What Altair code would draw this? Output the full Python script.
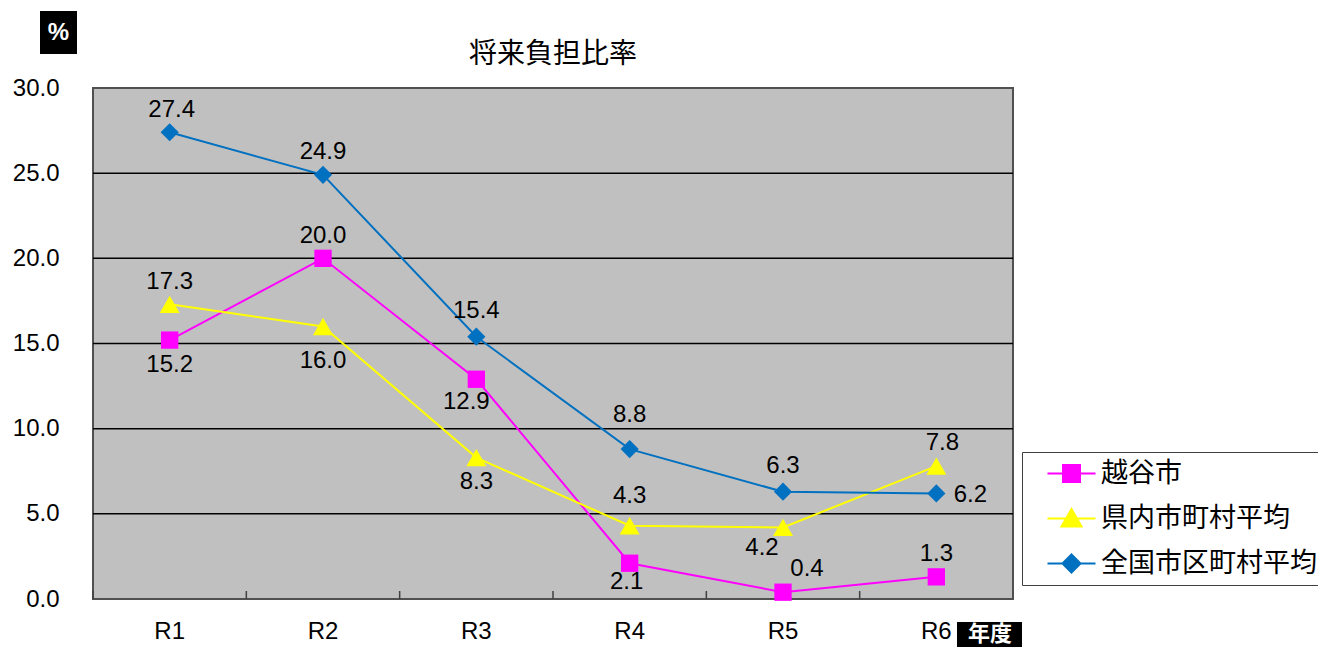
import altair as alt
import pandas as pd

# ---------------- data ----------------
years = ["R1", "R2", "R3", "R4", "R5", "R6"]
series_names = ["越谷市", "県内市町村平均", "全国市区町村平均"]
koshigaya = [15.2, 20.0, 12.9, 2.1, 0.4, 1.3]
prefecture_avg = [17.3, 16.0, 8.3, 4.3, 4.2, 7.8]
national_avg = [27.4, 24.9, 15.4, 8.8, 6.3, 6.2]
y_ticks = [0, 5, 10, 15, 20, 25, 30]
grid_values = [5, 10, 15, 20, 25]
chart_title = "将来負担比率"

# label placement (pixel offsets from each point)
label_dx = {
    "越谷市": [0, 0, -10, -3, 24, 0],
    "県内市町村平均": [0, 0, 0, 0, -21, 6],
    "全国市区町村平均": [2, 0, 0, 0, 0, 34],
}
label_dy = {
    "越谷市": [25, -22, 23, 19, -23, -23],
    "県内市町村平均": [-22, 35, 24, -30, 21, -23],
    "全国市区町村平均": [-22, -23, -26, -34, -26, 2],
}

# ---------------- styles ----------------
colors = ["#FF00FF", "#FFFF00", "#0070C0"]
shapes = ["square", "triangle-up", "diamond"]
marker_sizes = [300, 400, 330]
legend_paths = [
    "M0.4,0H5.2M1.95,-0.85H3.65V0.85H1.95Z",
    "M0.4,0H5.2M2.8,-0.95L3.8,0.8L1.8,0.8Z",
    "M0.4,0H5.2M2.8,-0.9L3.7,0L2.8,0.9L1.9,0Z",
]
NUM_FONT = "Liberation Sans"
JP_FONT = "Noto Sans CJK JP"
W, H = 920, 511

rows = []
for s, vals in zip(series_names, [koshigaya, prefecture_avg, national_avg]):
    for i, (yr, v) in enumerate(zip(years, vals)):
        rows.append({"year": yr, "series": s, "value": v, "idx": i})
df = pd.DataFrame(rows)

x_scale = alt.Scale(type="band", domain=years, paddingInner=0, paddingOuter=0)
x_axis = alt.Axis(
    title=None, domain=False, ticks=False, grid=False, labelAngle=0,
    labelFont=NUM_FONT, labelFontSize=24, labelColor="black", labelPadding=20,
)
y_scale = alt.Scale(domain=[0, 30], nice=False, zero=True)
y_axis = alt.Axis(
    title=None, values=y_ticks, format=".1f", domain=False, ticks=False, grid=False,
    labelFont=NUM_FONT, labelFontSize=24, labelColor="black", labelPadding=34,
)
y_enc = alt.Y("value:Q", scale=y_scale, axis=y_axis)
x_enc = alt.X("year:N", scale=x_scale, axis=x_axis, sort=years)

base = alt.Chart(df)
layers = []

# plot background
bg = pd.DataFrame({"t": [""]})
layers.append(
    alt.Chart(bg).mark_rect(color="#C0C0C0", stroke="#505050", strokeWidth=2).encode(
        x=alt.value(0), x2=alt.value(W), y=alt.value(0), y2=alt.value(H)
    )
)

# horizontal gridlines
layers.append(
    alt.Chart(pd.DataFrame({"value": grid_values})).mark_rule(color="black", strokeWidth=1.5).encode(
        y=y_enc
    )
)

# inward tick marks at category boundaries
layers.append(
    alt.Chart(pd.DataFrame({"year": years})).mark_rule(color="#404040", strokeWidth=1.5).encode(
        x=alt.X("year:N", scale=x_scale, axis=x_axis, sort=years, bandPosition=0),
        y=alt.value(H), y2=alt.value(H - 8),
    )
)

# lines
for s, c in zip(series_names, colors):
    layers.append(
        base.transform_filter(alt.datum.series == s).mark_line(strokeWidth=2, color=c).encode(
            x=x_enc, y=y_enc, order="idx:Q",
        )
    )

# markers
for s, c, shp, sz in zip(series_names, colors, shapes, marker_sizes):
    layers.append(
        base.transform_filter(alt.datum.series == s).mark_point(
            shape=shp, size=sz, filled=True, opacity=1, color=c
        ).encode(x=x_enc, y=y_enc)
    )

# data labels
for s in series_names:
    for i in range(len(years)):
        layers.append(
            base.transform_filter((alt.datum.series == s) & (alt.datum.idx == i)).mark_text(
                font=NUM_FONT, fontSize=24, color="black",
                dx=label_dx[s][i], dy=label_dy[s][i],
            ).encode(x=x_enc, y=y_enc, text=alt.Text("value:Q", format=".1f"))
        )

# title (as text so it is not pushed up by the annotation boxes)
ttl = pd.DataFrame({"t": [chart_title]})
layers.append(
    alt.Chart(ttl).mark_text(color="black", font=JP_FONT, fontSize=28).encode(
        x=alt.value(W / 2), y=alt.value(-33), text="t:N"
    )
)

# unit annotations
pct = pd.DataFrame({"t": ["%"]})
layers.append(
    alt.Chart(pct).mark_rect(color="black").encode(
        x=alt.value(-53), x2=alt.value(-16), y=alt.value(-77), y2=alt.value(-34)
    )
)
layers.append(
    alt.Chart(pct).mark_text(color="white", font=NUM_FONT, fontSize=24, fontWeight="bold").encode(
        x=alt.value(-34.5), y=alt.value(-55), text="t:N"
    )
)
nendo = pd.DataFrame({"t": ["年度"]})
layers.append(
    alt.Chart(nendo).mark_rect(color="black").encode(
        x=alt.value(864), x2=alt.value(929), y=alt.value(534), y2=alt.value(580)
    )
)
layers.append(
    alt.Chart(nendo).mark_text(color="white", font=JP_FONT, fontSize=22, fontWeight="bold").encode(
        x=alt.value(897), y=alt.value(546), text="t:N"
    )
)

# legend source layer (invisible marks; the legend carries the symbols)
layers.append(
    base.mark_point(filled=True, opacity=0).encode(
        x=x_enc, y=y_enc,
        fill=alt.Fill("series:N", scale=alt.Scale(domain=series_names, range=colors),
                      legend=alt.Legend(title=None)),
        stroke=alt.Stroke("series:N", scale=alt.Scale(domain=series_names, range=colors),
                          legend=alt.Legend(title=None)),
        shape=alt.Shape("series:N", scale=alt.Scale(domain=series_names, range=legend_paths),
                        legend=alt.Legend(title=None)),
    )
)

chart = alt.layer(*layers).properties(
    width=W, height=H,
    autosize=alt.AutoSizeParams(type="none"),
    padding={"left": 85, "top": 80, "right": 305, "bottom": 48},
    background="white",
).configure_view(
    stroke="#505050", strokeWidth=2
).configure_legend(
    orient="none", legendX=929, legendY=364, padding=8,
    strokeColor="#404040", fillColor="white",
    labelFont=JP_FONT, labelFontSize=27, labelColor="black", labelOffset=44,
    rowPadding=17, symbolSize=400, symbolStrokeWidth=2, symbolOpacity=1,
    labelLimit=400,
)

chart.save("out.html", embed_options={"renderer": "svg", "actions": False})
